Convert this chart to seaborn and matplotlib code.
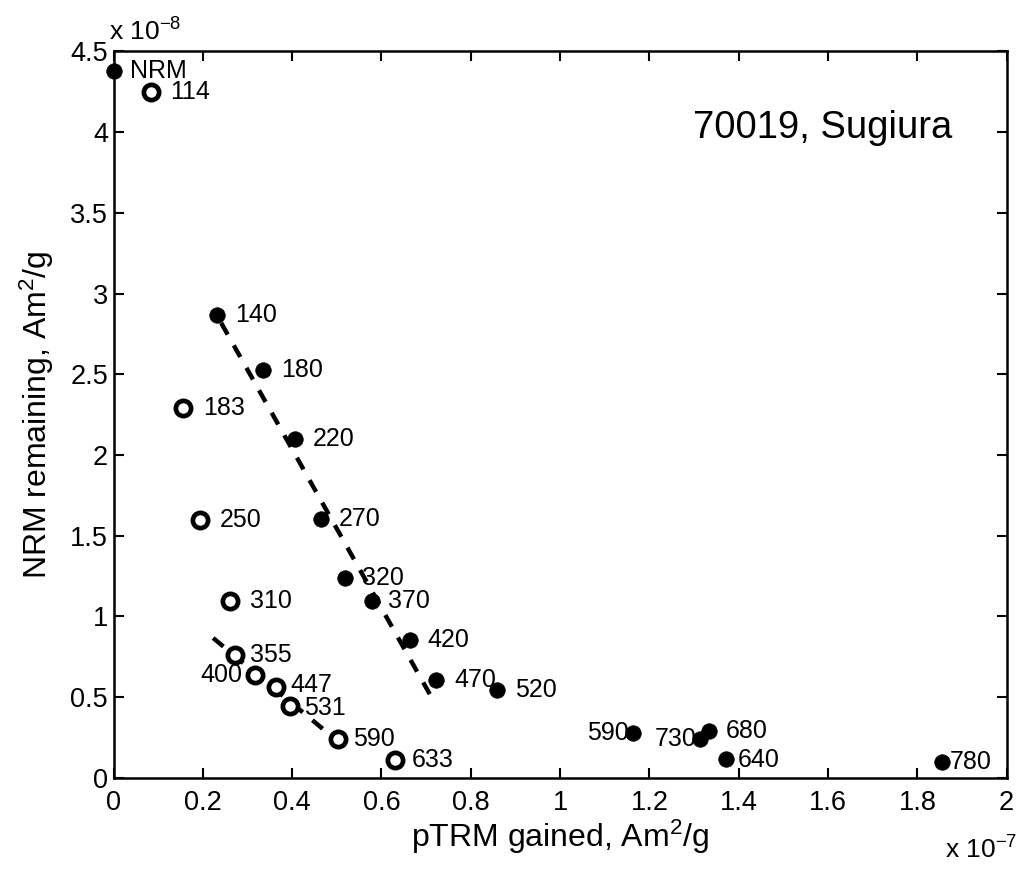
import matplotlib
matplotlib.use("Agg")
import matplotlib.pyplot as plt
import seaborn as sns
import pandas as pd

# Arai diagram: NRM remaining vs pTRM gained (x in 1e-7, y in 1e-8 Am^2/g)
filled_steps = ["NRM", "140", "180", "220", "270", "320", "370", "420", "470",
                "520", "590", "640", "680", "730", "780"]
filled_ptrm = [0.0, 0.231, 0.335, 0.406, 0.464, 0.518, 0.578, 0.663, 0.723,
               0.858, 1.163, 1.372, 1.333, 1.314, 1.856]
filled_nrm = [4.38, 2.87, 2.525, 2.10, 1.606, 1.240, 1.093, 0.856, 0.608,
              0.546, 0.277, 0.116, 0.287, 0.240, 0.095]

open_steps = ["114", "183", "250", "310", "355", "400", "447", "531", "590", "633"]
open_ptrm = [0.084, 0.156, 0.194, 0.261, 0.272, 0.317, 0.364, 0.395, 0.503, 0.630]
open_nrm = [4.247, 2.292, 1.60, 1.093, 0.763, 0.639, 0.562, 0.446, 0.240, 0.112]

# best-fit segments (end points)
fit1_x = [0.241, 0.719]
fit1_y = [2.818, 0.465]
fit2_x = [0.223, 0.525]
fit2_y = [0.866, 0.174]

sample_name = "70019, Sugiura"

sns.set_style("ticks")
plt.rcParams["font.family"] = ["Liberation Sans", "DejaVu Sans"]
plt.rcParams["mathtext.fontset"] = "custom"
plt.rcParams["mathtext.rm"] = "Liberation Sans"
plt.rcParams["mathtext.it"] = "Liberation Sans"
for key in ["text.color", "axes.labelcolor", "xtick.color", "ytick.color", "axes.edgecolor"]:
    plt.rcParams[key] = "black"

fig = plt.figure(figsize=(10.23, 8.71), dpi=100)
ax = fig.add_axes([0.111, 0.107, 0.873, 0.834])

df_f = pd.DataFrame({"x": filled_ptrm, "y": filled_nrm, "lab": filled_steps})
df_o = pd.DataFrame({"x": open_ptrm, "y": open_nrm, "lab": open_steps})

sns.lineplot(x=fit1_x, y=fit1_y, ax=ax, color="black", lw=3.2,
             linestyle=(0, (3.0, 2.8)), zorder=2)
sns.lineplot(x=fit2_x, y=fit2_y, ax=ax, color="black", lw=3.2,
             linestyle=(0, (3.0, 2.8)), zorder=2)

sns.scatterplot(data=df_f, x="x", y="y", ax=ax, color="black", s=125,
                edgecolor="black", linewidth=0.5, zorder=3, clip_on=False)
sns.scatterplot(data=df_o, x="x", y="y", ax=ax, s=120, marker="o",
                facecolor="white", edgecolor="black", linewidth=3.4, zorder=3)

# label placement offsets in points
filled_dx = [12, 13, 13, 13, 13, 12, 12, 13, 13, 13, -3, 8, 12, -3, 5]
filled_dy = [0, 0, 0, 0, 0, 0, 0, 0, 0, 0, 0, -1, 0, 0, 0]
open_dx = [14, 14, 14, 14, 11, -9, 10.5, 10.5, 11, 12]
open_dy = [0, 0, 0, 0, 0, 0, 1.5, -1.5, 0, 0]

for x, y, t, dx, dy in zip(filled_ptrm, filled_nrm, filled_steps, filled_dx, filled_dy):
    ha = "left" if dx > 0 else "right"
    ax.annotate(t, (x, y), xytext=(dx, dy), textcoords="offset points",
                ha=ha, va="center", fontsize=18, zorder=4)
for x, y, t, dx, dy in zip(open_ptrm, open_nrm, open_steps, open_dx, open_dy):
    ha = "left" if dx > 0 else "right"
    ax.annotate(t, (x, y), xytext=(dx, dy), textcoords="offset points",
                ha=ha, va="center", fontsize=18, zorder=4)

ax.text(0.939, 0.895, sample_name, transform=ax.transAxes, ha="right",
        va="center", fontsize=27.5)

ax.set_xlim(0, 2)
ax.set_ylim(0, 4.5)
ax.set_xticks([0, 0.2, 0.4, 0.6, 0.8, 1, 1.2, 1.4, 1.6, 1.8, 2])
ax.set_xticklabels(["0", "0.2", "0.4", "0.6", "0.8", "1", "1.2", "1.4", "1.6", "1.8", "2"])
ax.set_yticks([0, 0.5, 1, 1.5, 2, 2.5, 3, 3.5, 4, 4.5])
ax.set_yticklabels(["0", "0.5", "1", "1.5", "2", "2.5", "3", "3.5", "4", "4.5"])
ax.tick_params(direction="in", length=7, width=1.5, labelsize=19.5,
               top=True, right=True)
ax.tick_params(axis="x", pad=9)
ax.tick_params(axis="y", pad=4)
for s in ax.spines.values():
    s.set_linewidth(1.8)
    s.set_visible(True)

ax.set_xlabel("pTRM gained, Am$^2$/g", fontsize=23, labelpad=1)
ax.set_ylabel("NRM remaining, Am$^2$/g", fontsize=23, labelpad=10)

fig.text(0.107, 0.963, r"x 10$^{-8}$", fontsize=19, ha="left", va="center")
fig.text(0.994, 0.024, r"x 10$^{-7}$", fontsize=19, ha="right", va="center")

fig.savefig("out.png", dpi=100)
